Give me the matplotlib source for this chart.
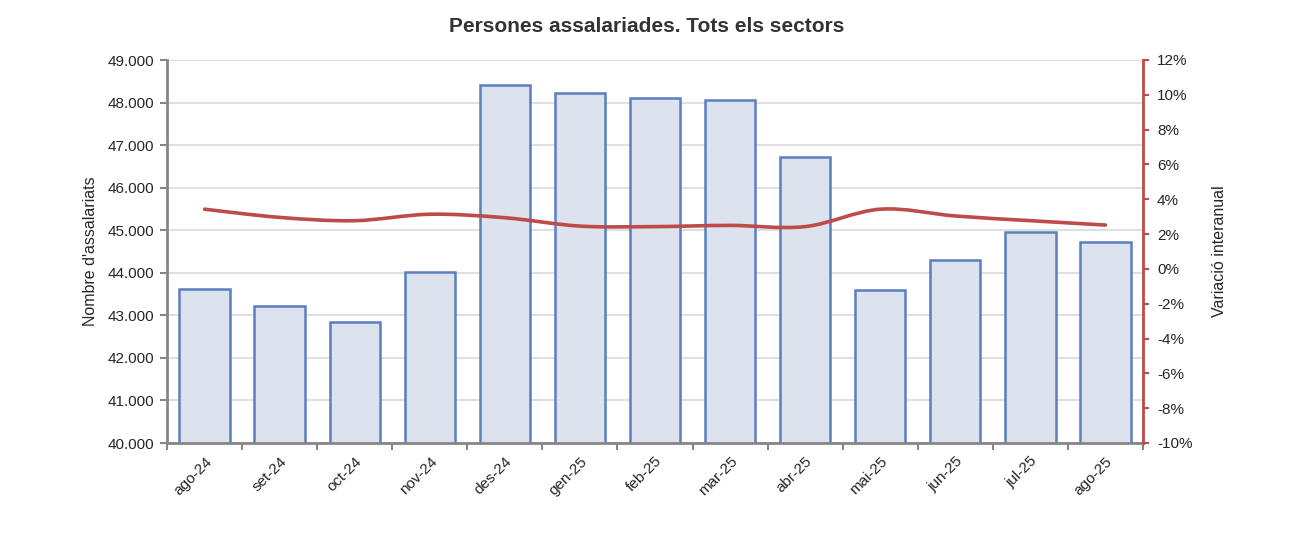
import matplotlib
matplotlib.use("Agg")
import matplotlib.pyplot as plt
from matplotlib.path import Path
from matplotlib.patches import PathPatch
from matplotlib.ticker import FuncFormatter, MultipleLocator
import numpy as np

months = ["ago-24", "set-24", "oct-24", "nov-24", "des-24", "gen-25", "feb-25",
          "mar-25", "abr-25", "mai-25", "jun-25", "jul-25", "ago-25"]
employees = [43610, 43210, 42840, 44020, 48406, 48225, 48100, 48070, 46730,
             43590, 44300, 44955, 44720]
variation = [3.43, 2.96, 2.77, 3.14, 2.94, 2.46, 2.43, 2.50, 2.43, 3.43, 3.04, 2.77, 2.52]

plt.rcParams['font.family'] = ['Liberation Sans', 'DejaVu Sans']
txt = '#262626'
grey = '#868686'
red = '#BE4B48'

fig = plt.figure(figsize=(12.94, 5.44), dpi=100)
ax = fig.add_axes([167/1294, 1 - 443/544, (1143-167)/1294, (443-60)/544])
x = np.arange(len(months))

ax.set_axisbelow(True)
ax.yaxis.grid(True, color='#D9D9D9', linewidth=1.2)
ax.bar(x, employees, width=0.67, color='#DCE3EF', edgecolor='#5A7FBE', linewidth=1.8, zorder=2)
ax.set_ylim(40000, 49000)
ax.set_xlim(-0.5, len(months) - 0.5)
ax.yaxis.set_major_locator(MultipleLocator(1000))
ax.yaxis.set_major_formatter(FuncFormatter(lambda v, p: f"{int(v):,}".replace(",", ".")))
ax.set_xticks(x)
ax.set_xticklabels(months, rotation=45, ha='right', rotation_mode='anchor', color=txt, fontsize=11)
ax.set_xticks(np.arange(-0.5, len(months)), minor=True)
ax.tick_params(axis='x', which='major', length=0, pad=8)
ax.tick_params(axis='x', which='minor', length=5, width=1.5, color=grey)
ax.tick_params(axis='y', length=5, width=1.5, color=grey, labelsize=11, labelcolor=txt, pad=4)
for s in ['top', 'right']:
    ax.spines[s].set_visible(False)
for s in ['left', 'bottom']:
    ax.spines[s].set_color(grey)
    ax.spines[s].set_linewidth(2)
ax.set_ylabel("Nombre d'assalariats", fontsize=11.5, color=txt, labelpad=7)

ax2 = ax.twinx()
ax2.set_ylim(-10, 12)
ax2.yaxis.set_major_locator(MultipleLocator(2))
ax2.yaxis.set_major_formatter(FuncFormatter(lambda v, p: f"{int(round(v))}%"))
ax2.tick_params(axis='y', length=4, width=1.5, color=red, labelsize=11, labelcolor=txt, pad=6)
for s in ['top', 'left', 'bottom']:
    ax2.spines[s].set_visible(False)
ax2.spines['right'].set_color(red)
ax2.spines['right'].set_linewidth(2)
ax2.set_ylabel("Variació interanual", fontsize=11.5, color=txt, rotation=90, labelpad=14)

# Smooth line (Catmull-Rom -> cubic Bezier) through the data points
pts = np.column_stack([x, variation]).astype(float)
verts = [tuple(pts[0])]
codes = [Path.MOVETO]
t = 1/6
for i in range(len(pts) - 1):
    p0 = pts[i - 1] if i > 0 else pts[i]
    p1 = pts[i]
    p2 = pts[i + 1]
    p3 = pts[i + 2] if i + 2 < len(pts) else pts[i + 1]
    c1 = p1 + (p2 - p0) * t
    c2 = p2 - (p3 - p1) * t
    verts += [tuple(c1), tuple(c2), tuple(p2)]
    codes += [Path.CURVE4] * 3
patch = PathPatch(Path(verts, codes), facecolor='none', edgecolor=red, linewidth=2.6,
                  capstyle='round', joinstyle='round', zorder=3)
ax2.add_patch(patch)

fig.text(0.5, 1 - 27/544, "Persones assalariades. Tots els sectors", ha='center', va='center',
         fontsize=15, fontweight='bold', color='#333333')

fig.savefig("out.png", dpi=100)
